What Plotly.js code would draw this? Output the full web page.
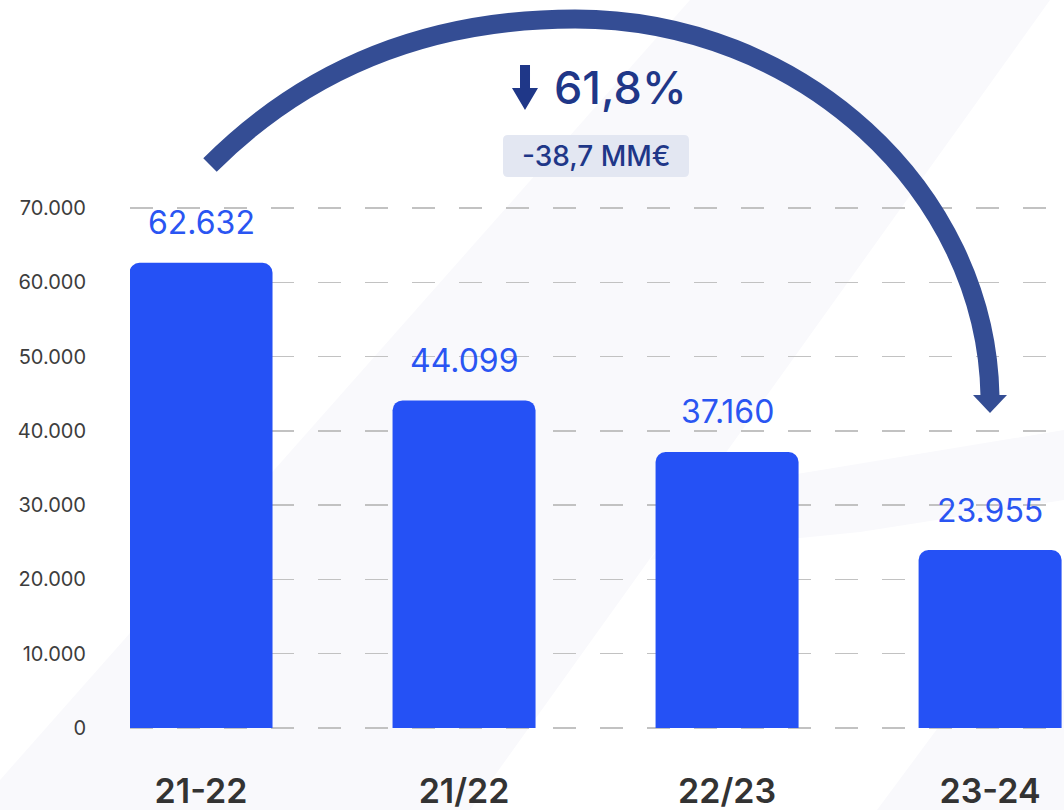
<!DOCTYPE html>
<html>
<head>
<meta charset="utf-8">
<script src="https://cdn.plot.ly/plotly-3.0.1.min.js"></script>
<style>html,body{margin:0;padding:0;background:#fff;}#chart{width:1064px;height:810px;}</style>
</head>
<body>
<div id="chart"></div>
<script>
// ---- data ----
const categories = ['21-22', '21/22', '22/23', '23-24'];
const values = [62632, 44099, 37160, 23955];
const yTickVals = [0, 10000, 20000, 30000, 40000, 50000, 60000, 70000];
const changePercent = '61,8%';
const changeAmount = '-38,7 MM€';

// ---- layout geometry (pixels) ----
const FIG_W = 1064, FIG_H = 810;
const M = {l: 130, r: 0, t: 204, b: 78};
const PW = FIG_W - M.l - M.r, PH = FIG_H - M.t - M.b;
const fx = x => ((x - M.l) / PW).toFixed(5);
const fy = y => ((FIG_H - M.b - y) / PH).toFixed(5);
const P = (x, y) => fx(x) + ',' + fy(y);
function poly(pts) { return 'M' + pts.map(p => P(p[0], p[1])).join(' L') + ' Z'; }
function roundRect(x0, y0, x1, y1, r) {
  return 'M' + P(x0 + r, y0) + ' L' + P(x1 - r, y0) + ' Q' + P(x1, y0) + ' ' + P(x1, y0 + r) +
    ' L' + P(x1, y1 - r) + ' Q' + P(x1, y1) + ' ' + P(x1 - r, y1) +
    ' L' + P(x0 + r, y1) + ' Q' + P(x0, y1) + ' ' + P(x0, y1 - r) +
    ' L' + P(x0, y0 + r) + ' Q' + P(x0, y0) + ' ' + P(x0 + r, y0) + ' Z';
}

const fmt = v => v.toString().replace(/\B(?=(\d{3})+(?!\d))/g, '.');

const NAVY = '#1f3788';
const ARC = '#344d94';
const BLUE = '#2551f5';
const BG = '#f9f9fc';

const trace = {
  type: 'bar',
  x: categories,
  y: values,
  width: 0.5437,
  marker: {color: BLUE, line: {width: 0}},
  hoverinfo: 'none'
};

const valueAnnotations = categories.map((c, i) => ({
  x: c, y: values[i], xref: 'x', yref: 'y',
  text: fmt(values[i]), showarrow: false,
  yanchor: 'middle', yshift: 40,
  font: {family: 'Inter, sans-serif', size: 32, color: '#2a55f2'}
}));

const shapes = [
  // faint background decoration
  {type: 'path', xref: 'paper', yref: 'paper', layer: 'below', line: {width: 0}, fillcolor: BG,
   path: poly([[0, 780], [690, 0], [1050, 0], [470, 810], [0, 810]])},
  {type: 'path', xref: 'paper', yref: 'paper', layer: 'below', line: {width: 0}, fillcolor: BG,
   path: poly([[700, 490], [1064, 430], [1064, 500], [860, 532], [780, 540], [650, 560]])},
  {type: 'path', xref: 'paper', yref: 'paper', layer: 'below', line: {width: 0}, fillcolor: BG,
   path: poly([[877, 810], [940, 725], [1064, 690], [1064, 810]])},
  // curved arrow
  {type: 'path', xref: 'paper', yref: 'paper', layer: 'above', fillcolor: 'rgba(0,0,0,0)',
   line: {color: ARC, width: 19},
   path: 'M' + P(210, 165) + ' C' + P(290, 85) + ' ' + P(405, 19) + ' ' + P(575, 19) +
         ' C' + P(800, 19) + ' ' + P(986, 190) + ' ' + P(990, 396)},
  {type: 'path', xref: 'paper', yref: 'paper', layer: 'above', line: {width: 0}, fillcolor: ARC,
   path: poly([[973, 395], [1007, 395], [990, 413]])},
  // small down arrow
  {type: 'path', xref: 'paper', yref: 'paper', layer: 'above', line: {width: 0}, fillcolor: NAVY,
   path: poly([[520, 65], [530, 65], [530, 88], [538, 88], [525, 110], [512, 88], [520, 88]])},
  // amount box
  {type: 'path', xref: 'paper', yref: 'paper', layer: 'above', line: {width: 0}, fillcolor: '#e3e7f2',
   path: roundRect(503, 135, 689, 177, 5)}
];

const annotations = valueAnnotations.concat([
  {xref: 'paper', yref: 'paper', x: fx(552), y: fy(88), xanchor: 'left', yanchor: 'middle',
   text: changePercent, showarrow: false,
   font: {family: 'Inter, sans-serif', size: 45, color: NAVY, weight: 500}},
  {xref: 'paper', yref: 'paper', x: fx(596), y: fy(156), xanchor: 'center', yanchor: 'middle',
   text: changeAmount, showarrow: false,
   font: {family: 'Inter, sans-serif', size: 28, color: NAVY, weight: 500}}
]);

const layout = {
  width: FIG_W, height: FIG_H,
  margin: M,
  paper_bgcolor: '#ffffff',
  plot_bgcolor: 'rgba(0,0,0,0)',
  separators: ',.',
  showlegend: false,
  barcornerradius: 10,
  xaxis: {
    type: 'category',
    range: [-0.27, 3.281],
    showgrid: false, zeroline: false, showline: false,
    ticks: '',
    ticklabelstandoff: 36,
    tickfont: {family: 'Inter, sans-serif', size: 34, color: '#333333', weight: 600},
    fixedrange: true
  },
  yaxis: {
    range: [-538, 70538],
    tickvals: yTickVals,
    tickformat: ',d',
    showgrid: true, gridcolor: '#c2c2c2', gridwidth: 1.3, griddash: '23px,24px',
    zeroline: false, showline: false, ticks: '',
    ticklabelstandoff: 43,
    tickfont: {family: 'Inter, sans-serif', size: 20, color: '#3d3d3d'},
    fixedrange: true
  },
  shapes: shapes,
  annotations: annotations
};

Plotly.newPlot('chart', [trace], layout, {displayModeBar: false, staticPlot: true});
</script>
</body>
</html>
